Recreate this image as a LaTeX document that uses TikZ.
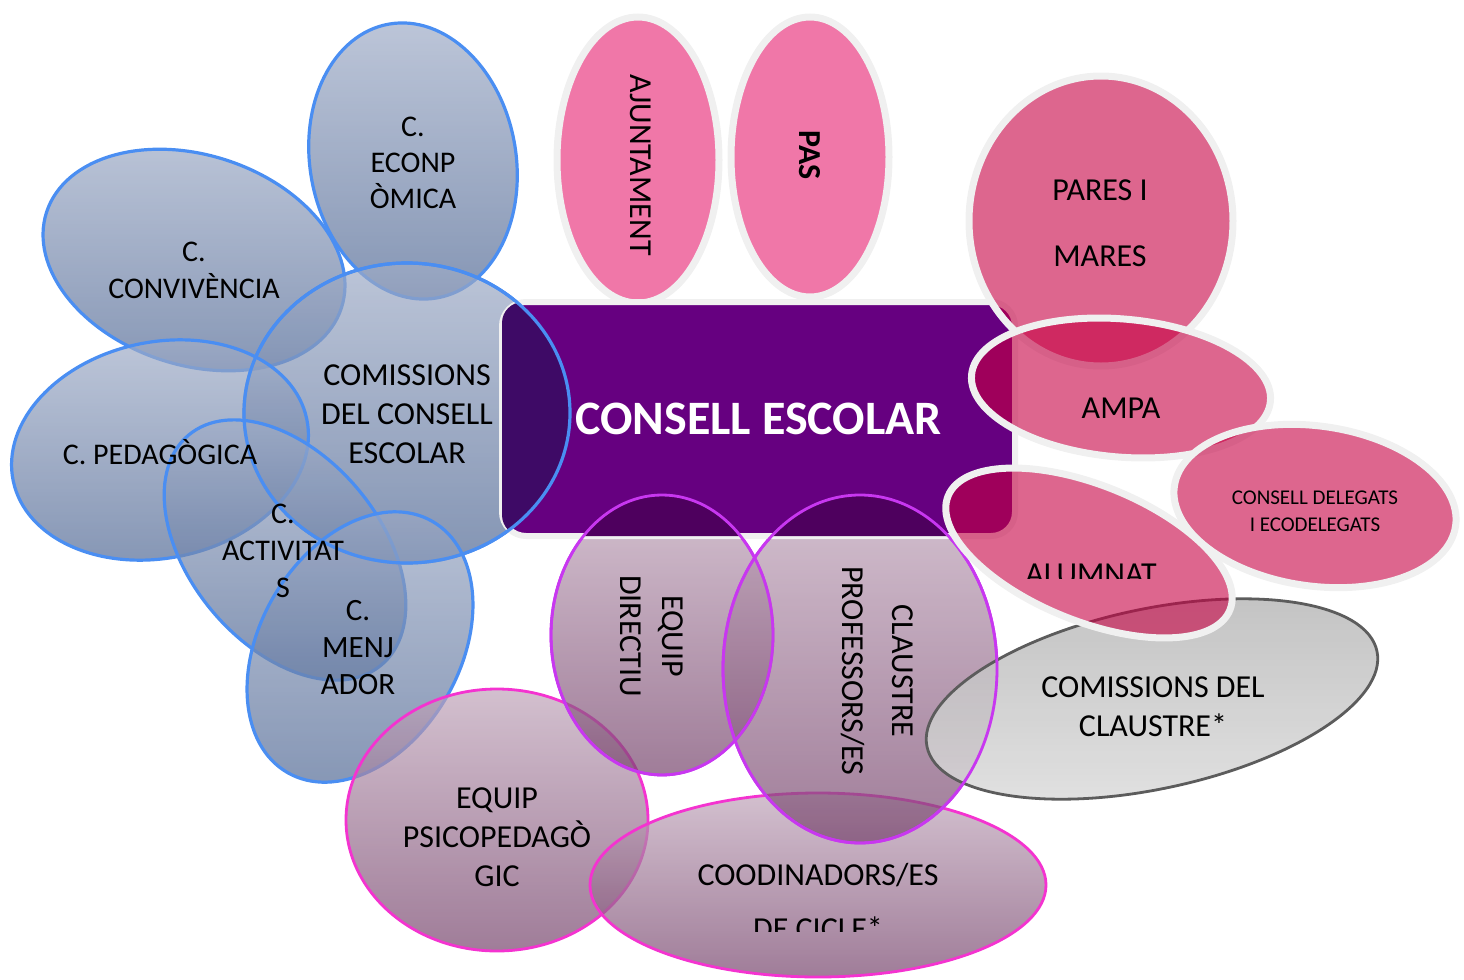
\documentclass[tikz,border=0pt]{standalone}
\usepackage{fontspec}
\setmainfont{Carlito}
\definecolor{blueT}{HTML}{9FACC7}
\definecolor{blueB}{HTML}{4F6793}
\definecolor{blueline}{HTML}{4A8EF2}
\definecolor{purpleCE}{HTML}{660080}
\definecolor{purpleDk}{HTML}{3E0A66}
\definecolor{purpleDk2}{HTML}{4E005E}
\definecolor{pinkL}{HTML}{F077A8}
\definecolor{pinkM}{HTML}{C60043}
\definecolor{rim}{HTML}{F0F0F0}
\definecolor{mauveT}{HTML}{C0A5BA}
\definecolor{mauveB}{HTML}{77456D}
\definecolor{violetline}{HTML}{C837F0}
\definecolor{magline}{HTML}{F433D0}
\definecolor{grayT}{HTML}{BABABA}
\definecolor{grayB}{HTML}{DDDDDD}
\definecolor{grayline}{HTML}{5C5C5C}
\newcommand\blobpath[6]{\path[#1, rotate around={#6:(#2,#3)}] (#2,#3) ellipse [x radius=#4, y radius=#5];}
\newcommand\blobclip[5]{\clip[rotate around={#5:(#1,#2)}] (#1,#2) ellipse [x radius=#3, y radius=#4];}
\begin{document}
\begin{tikzpicture}[x=0.5pt,y=-0.5pt,
  bluebl/.style={draw=blueline, line width=1.6pt, top color=blueT, bottom color=blueB, fill opacity=0.7},
  pinktop/.style={draw=rim, line width=3.5pt, fill=pinkL},
  pinkbl/.style={draw=rim, line width=3.5pt, fill=pinkM, fill opacity=0.6},
  mauvebl/.style={line width=1.4pt, top color=mauveT, bottom color=mauveB, fill opacity=0.7},
  graybl/.style={draw=grayline, line width=1.4pt, top color=grayT, bottom color=grayB, fill opacity=0.85},
  lbl/.style={font=\fontsize{16}{19}\selectfont, align=center, inner sep=0pt, text=black},
  cebox/.style={draw=rim, line width=3pt, fill=purpleCE, rounded corners=12pt, inner sep=0pt,
     text=white, font=\fontsize{24}{28}\selectfont\bfseries}
]
\useasboundingbox (0,0) rectangle (1464,980);

% top pink ellipses
\blobpath{pinktop}{638}{160}{81}{143}{0}
\blobpath{pinktop}{810}{157}{79}{140}{0}

% blue commissions
\blobpath{bluebl}{413}{161}{103}{139}{10}
\blobpath{bluebl}{194}{260}{155}{105}{-18}
\blobpath{bluebl}{407}{413}{163}{150}{0}
\blobpath{bluebl}{160}{450}{150}{108}{12}
\blobpath{bluebl}{285}{550}{150}{95}{-50}
\blobpath{bluebl}{360}{647}{100}{145}{-30}

% mauve and gray
\blobpath{mauvebl, draw=magline}{497}{820}{151}{131}{0}
\blobpath{mauvebl, draw=magline}{818}{885}{228}{92}{0}
\blobpath{mauvebl, draw=violetline}{662}{635}{111}{140}{0}
\blobpath{mauvebl, draw=violetline}{860}{669}{137}{174}{0}
\blobpath{graybl}{1152}{699}{230}{90}{12}

% central box
\node[cebox, minimum width=256.5pt, minimum height=117pt] (ce) at (758.5,419) {};

% darker overlaps on the central box
\begin{scope}
\blobclip{407}{413}{163}{150}{0}
\fill[purpleDk, rounded corners=10.5pt] ([shift={(3,-3)}]ce.south west) rectangle ([shift={(-3,3)}]ce.north east);
\end{scope}
\begin{scope}
\blobclip{662}{635}{111}{140}{0}
\fill[purpleDk2, rounded corners=10.5pt] ([shift={(3,-3)}]ce.south west) rectangle ([shift={(-3,3)}]ce.north east);
\end{scope}
\begin{scope}
\blobclip{860}{669}{137}{174}{0}
\fill[purpleDk2, rounded corners=10.5pt] ([shift={(3,-3)}]ce.south west) rectangle ([shift={(-3,3)}]ce.north east);
\end{scope}
\node[text=white, font=\fontsize{24}{28}\selectfont\bfseries, inner sep=0pt] (ce-text) at (ce.center) {CONSELL ESCOLAR};
\blobpath{draw=blueline, line width=1.6pt}{407}{413}{163}{150}{0}
\blobpath{draw=violetline, line width=1.4pt}{662}{635}{111}{140}{0}
\blobpath{draw=violetline, line width=1.4pt}{860}{669}{137}{174}{0}

% pink family group
\blobpath{pinkbl}{1101}{221}{132}{145}{0}
\blobpath{pinkbl}{1121}{388}{150}{69}{-5}
\blobpath{pinkbl}{1315}{506}{142}{80}{-8}
\blobpath{pinkbl}{1089}{553}{152}{68}{-22}

% labels
\node[lbl, font=\fontsize{15}{18}\selectfont] (t-econ) at (413,163) {C.\\ECONP\\ÒMICA};
\node[lbl, font=\fontsize{15}{18.5}\selectfont] (t-conv) at (194,270) {C.\\CONVIVÈNCIA};
\node[lbl, font=\fontsize{16}{19.5}\selectfont] (t-comis) at (407,414) {COMISSIONS\\DEL CONSELL\\ESCOLAR};
\node[lbl, font=\fontsize{15}{18}\selectfont] (t-ped) at (160,452) {C. PEDAGÒGICA};
\node[lbl, font=\fontsize{15}{18.5}\selectfont] (t-act) at (283,551) {C.\\ACTIVITAT\\S};
\node[lbl, font=\fontsize{15.5}{18.5}\selectfont] (t-menj) at (358,648) {C.\\MENJ\\ADOR};
\node[lbl, rotate=-90] (t-ajun) at (641,165) {AJUNTAMENT};
\node[lbl, rotate=-90, font=\fontsize{16}{19}\selectfont\bfseries] (t-pas) at (810,155) {PAS};
\node[lbl, font=\fontsize{16}{33}\selectfont] (t-pares) at (1100,223) {PARES I\\MARES};
\node[lbl] (t-ampa) at (1121,408) {AMPA};
\node[lbl, font=\fontsize{10.5}{13.5}\selectfont] (t-deleg) at (1315,511) {CONSELL DELEGATS\\I ECODELEGATS};
\begin{scope}
\clip (900,540) rectangle (1300,578);
\node[lbl] (t-alum) at (1091,574) {ALUMNAT};
\end{scope}
\node[lbl, rotate=-90, font=\fontsize{16}{21}\selectfont] (t-dir) at (652,636) {EQUIP\\DIRECTIU};
\node[lbl, rotate=-90, font=\fontsize{16}{25}\selectfont] (t-claus) at (877,671) {CLAUSTRE\\PROFESSORS/ES};
\node[lbl, font=\fontsize{16}{19.5}\selectfont] (t-gray) at (1153,707) {COMISSIONS DEL\\CLAUSTRE*};
\node[lbl, font=\fontsize{16}{19.5}\selectfont] (t-psico) at (497,837) {EQUIP\\PSICOPEDAGÒ\\GIC};
\begin{scope}
\clip (600,840) rectangle (1040,931);
\node[lbl, font=\fontsize{16}{27}\selectfont] (t-coord) at (818,901) {COODINADORS/ES\\DE CICLE*};
\end{scope}
\end{tikzpicture}
\end{document}
